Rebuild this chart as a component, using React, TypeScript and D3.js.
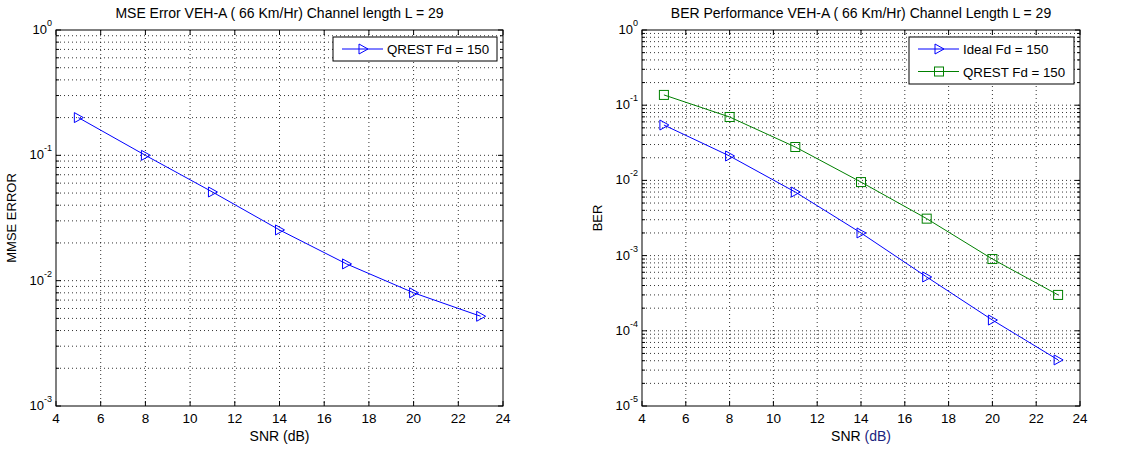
import React from "react";
import * as d3 from "d3";

const snr = [5, 8, 11, 14, 17, 20, 23];
const mmseQrest = [0.2, 0.1, 0.051, 0.0254, 0.0136, 0.008, 0.0052];
const berIdeal = [0.0545, 0.0211, 0.007, 0.002, 0.00052, 0.000139, 0.000041];
const berQrest = [0.137, 0.0697, 0.0278, 0.0095, 0.0031, 0.0009, 0.0003];
const xTicks = [4, 6, 8, 10, 12, 14, 16, 18, 20, 22, 24];

type Series = { name: string; values: number[]; color: string; marker: "tri" | "sq" };

const FONT = "'Liberation Sans', Arial, sans-serif";

function Marker({ x, y, kind, color }: { x: number; y: number; kind: string; color: string }) {
  if (kind === "tri") {
    return (
      <path
        d={`M${x - 4},${y - 5}L${x + 5},${y}L${x - 4},${y + 5}Z`}
        fill="none"
        stroke={color}
        strokeWidth={1}
      />
    );
  }
  const s = 4.5;
  return <rect x={x - s} y={y - s} width={2 * s} height={2 * s} fill="none" stroke={color} strokeWidth={1} />;
}

function Panel(props: {
  left: number;
  right: number;
  top: number;
  bottom: number;
  yMin: number;
  yMax: number;
  title: string;
  ylabel: string;
  series: Series[];
  legendW: number;
  dbColor: string;
}) {
  const { left, right, top, bottom, yMin, yMax, title, ylabel, series, legendW, dbColor } = props;
  const x = d3.scaleLinear().domain([4, 24]).range([left, right]);
  const y = d3.scaleLog().domain([yMin, yMax]).range([bottom, top]);
  const lo = Math.round(Math.log10(yMin));
  const hi = Math.round(Math.log10(yMax));
  const majors: number[] = [];
  const minors: number[] = [];
  for (let e = lo; e <= hi; e++) {
    majors.push(e);
    if (e < hi) for (let m = 2; m <= 9; m++) minors.push(m * Math.pow(10, e));
  }
  const line = d3
    .line<number>()
    .x((_, i) => x(snr[i]))
    .y((v) => y(v));
  const legH = 23 * series.length + 1;
  const legX = right - 6 - legendW;
  const legY = top + 7;
  return (
    <g fontFamily={FONT}>
      {/* grid */}
      {xTicks.slice(1, -1).map((t) => (
        <line key={"gx" + t} x1={x(t)} x2={x(t)} y1={top} y2={bottom} stroke="#000" strokeWidth={0.8} strokeDasharray="1,3" />
      ))}
      {majors.slice(1, -1).map((e) => (
        <line key={"gy" + e} x1={left} x2={right} y1={y(Math.pow(10, e))} y2={y(Math.pow(10, e))} stroke="#000" strokeWidth={0.8} strokeDasharray="1,3" />
      ))}
      {minors.map((v, i) => (
        <line key={"gm" + i} x1={left} x2={right} y1={y(v)} y2={y(v)} stroke="#000" strokeWidth={0.8} strokeDasharray="1,3" />
      ))}
      {/* ticks */}
      {xTicks.map((t) => (
        <g key={"xt" + t}>
          <line x1={x(t)} x2={x(t)} y1={bottom} y2={bottom - 5} stroke="#000" />
          <line x1={x(t)} x2={x(t)} y1={top} y2={top + 5} stroke="#000" />
          <text x={x(t)} y={bottom + 17} textAnchor="middle" fontSize={13.5}>
            {t}
          </text>
        </g>
      ))}
      {majors.map((e) => (
        <g key={"yt" + e}>
          <line x1={left} x2={left + 5} y1={y(Math.pow(10, e))} y2={y(Math.pow(10, e))} stroke="#000" />
          <line x1={right} x2={right - 5} y1={y(Math.pow(10, e))} y2={y(Math.pow(10, e))} stroke="#000" />
          <text x={left - 4} y={y(Math.pow(10, e)) + 4} textAnchor="end" fontSize={13}>
            10
            <tspan fontSize={9} dy={-8}>
              {e}
            </tspan>
          </text>
        </g>
      ))}
      {minors.map((v, i) => (
        <g key={"ym" + i}>
          <line x1={left} x2={left + 3} y1={y(v)} y2={y(v)} stroke="#000" />
          <line x1={right} x2={right - 3} y1={y(v)} y2={y(v)} stroke="#000" />
        </g>
      ))}
      {/* series */}
      {series.map((s) => (
        <g key={s.name}>
          <path d={line(s.values) || ""} fill="none" stroke={s.color} strokeWidth={1} />
          {s.values.map((v, i) => (
            <Marker key={i} x={x(snr[i])} y={y(v)} kind={s.marker} color={s.color} />
          ))}
        </g>
      ))}
      {/* frame */}
      <rect x={left} y={top} width={right - left} height={bottom - top} fill="none" stroke="#000" strokeWidth={1} />
      {/* legend */}
      <rect x={legX} y={legY} width={legendW} height={legH} fill="#fff" stroke="#000" strokeWidth={1} />
      {series.map((s, i) => {
        const cy = legY + 12 + i * 22.5;
        return (
          <g key={"lg" + s.name}>
            <line x1={legX + 9} x2={legX + 50} y1={cy} y2={cy} stroke={s.color} />
            <Marker x={legX + 30} y={cy} kind={s.marker} color={s.color} />
            <text x={legX + 54} y={cy + 5} fontSize={13.3}>
              {s.name}
            </text>
          </g>
        );
      })}
      {/* labels */}
      <text x={(left + right) / 2} y={top - 12} textAnchor="middle" fontSize={14}>
        {title}
      </text>
      <text x={(left + right) / 2} y={bottom + 35} textAnchor="middle" fontSize={14}>
        SNR <tspan fill={dbColor}>(dB)</tspan>
      </text>
      <text
        transform={`translate(${left - 40},${(top + bottom) / 2}) rotate(-90)`}
        textAnchor="middle"
        fontSize={13}
      >
        {ylabel}
      </text>
    </g>
  );
}

export default function App() {
  return (
    <svg width={1141} height={450} style={{ position: "absolute", left: 0, top: 0, background: "#fff" }}>
      <rect width={1141} height={450} fill="#fff" />
      <Panel
        left={56}
        right={503}
        top={30}
        bottom={406}
        yMin={1e-3}
        yMax={1}
        title="MSE Error VEH-A ( 66 Km/Hr) Channel length L = 29"
        ylabel="MMSE ERROR"
        series={[{ name: "QREST Fd = 150", values: mmseQrest, color: "#0000ff", marker: "tri" }]}
        legendW={164}
        dbColor="#000"
      />
      <Panel
        left={642}
        right={1080}
        top={30}
        bottom={406}
        yMin={1e-5}
        yMax={1}
        title="BER Performance VEH-A ( 66 Km/Hr) Channel Length L = 29"
        ylabel="BER"
        series={[
          { name: "Ideal Fd = 150", values: berIdeal, color: "#0000ff", marker: "tri" },
          { name: "QREST Fd = 150", values: berQrest, color: "#008000", marker: "sq" },
        ]}
        legendW={165}
        dbColor="#1a237e"
      />
    </svg>
  );
}
